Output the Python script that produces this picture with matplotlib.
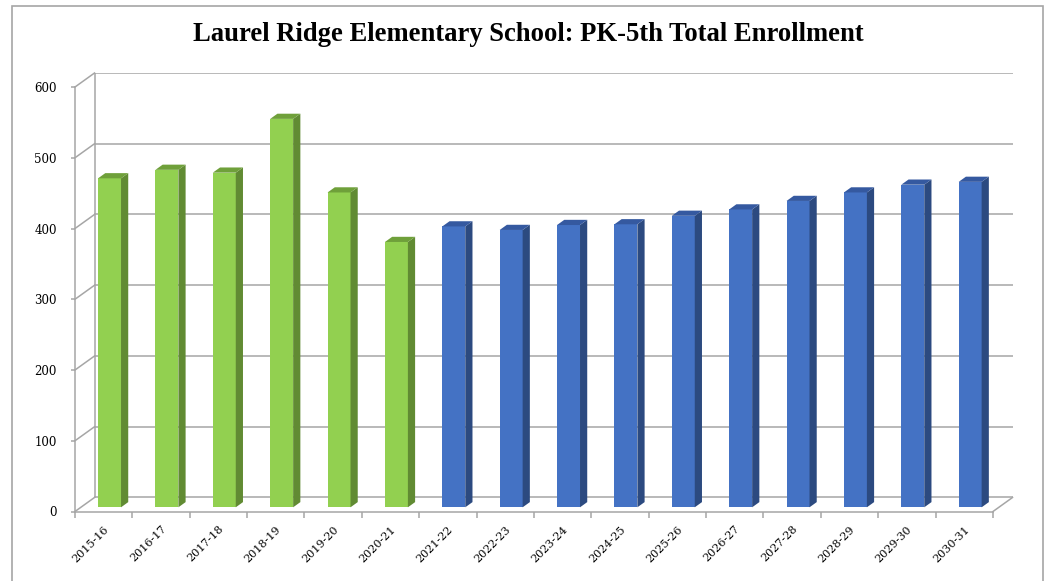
import numpy as np
import matplotlib.pyplot as plt
from matplotlib.patches import Polygon, Rectangle

years = ['2015-16', '2016-17', '2017-18', '2018-19', '2019-20', '2020-21',
         '2021-22', '2022-23', '2023-24', '2024-25', '2025-26', '2026-27',
         '2027-28', '2028-29', '2029-30', '2030-31']
enrollment = [465, 477, 473, 549, 445, 375,
              397, 392, 399, 400, 412, 421, 433, 445, 456, 460]
# first 6 are actual (green), the rest projected (blue)
n_actual = 6
y_ticks = [0, 100, 200, 300, 400, 500, 600]

W, H = 1054, 581
fig = plt.figure(figsize=(W / 100, H / 100), dpi=100)

## 3d look: depth offset of the wall, in data units
DX = 0.34
DY = 19.8
depth_front = 0.30   # where the bar front face sits
bar_depth = 0.37
bar_w = 0.40

# axes box in pixels (front-left-bottom corner to back-right-top corner)
x0_px, x1_px = 75, 1012.5
y0_px, y1_px = 511.5, 73
ax = fig.add_axes([x0_px / W, (H - y0_px) / H, (x1_px - x0_px) / W, (y0_px - y1_px) / H])
ax.set_xlim(-0.5, len(years) - 0.5 + DX)
ax.set_ylim(0, 600 + DY)

grid_c = '#a6a6a6'
lw = 1.1
n = len(years)
xl, xr = -0.5, n - 0.5

## walls and gridlines
for v in y_ticks:
    ax.plot([xl + DX, xr + DX], [v + DY, v + DY], color=grid_c, lw=lw, zorder=1)
    ax.plot([xl, xl + DX], [v, v + DY], color=grid_c, lw=lw, zorder=1, clip_on=False)
ax.plot([xl + DX, xl + DX], [DY, 600 + DY], color=grid_c, lw=lw, zorder=1)
ax.plot([xr, xr + DX], [0, DY], color=grid_c, lw=lw, zorder=1, clip_on=False)

## bars
green = ('#92d050', '#618b33', '#6fa03a')
blue = ('#4472c4', '#2c4a80', '#3559a0')
x = np.arange(n)
for i, v in enumerate(enrollment):
    front, side, top = green if i < n_actual else blue
    fx = x[i] + depth_front * DX
    fy = depth_front * DY
    left, right = fx - bar_w / 2, fx + bar_w / 2
    ddx, ddy = bar_depth * DX, bar_depth * DY
    ax.bar(fx, v, width=bar_w, bottom=fy, color=front, edgecolor='none', zorder=3)
    ax.add_patch(Polygon([(right, fy), (right + ddx, fy + ddy),
                          (right + ddx, fy + v + ddy), (right, fy + v)],
                         closed=True, facecolor=side, edgecolor='none', zorder=3))
    ax.add_patch(Polygon([(left, fy + v), (right, fy + v),
                          (right + ddx, fy + v + ddy), (left + ddx, fy + v + ddy)],
                         closed=True, facecolor=top, edgecolor='none', zorder=3))

## axes
for s in ['top', 'right']:
    ax.spines[s].set_visible(False)
for s in ['left', 'bottom']:
    ax.spines[s].set_color(grid_c)
    ax.spines[s].set_linewidth(lw)
ax.spines['left'].set_bounds(0, 600)
ax.spines['bottom'].set_bounds(xl, xr)

ax.set_yticks(y_ticks)
ax.set_yticklabels([str(t) for t in y_ticks], fontsize=8.5, family='DejaVu Serif')
ax.tick_params(axis='y', length=3, width=lw, color=grid_c, pad=10)

ax.set_xticks(x)
ax.set_xticklabels(years, rotation=45, ha='right', rotation_mode='anchor',
                   fontsize=8, family='DejaVu Serif')
ax.set_xticks(np.arange(n + 1) - 0.5, minor=True)
ax.tick_params(axis='x', which='major', length=0, pad=9)
ax.tick_params(axis='x', which='minor', length=4, width=lw, color=grid_c)

fig.text(528.5 / W, (H - 40.7) / H,
         'Laurel Ridge Elementary School: PK-5th Total Enrollment',
         ha='center', va='baseline', fontsize=19.2, fontweight='bold',
         family='Liberation Serif')

fig.add_artist(Rectangle((12 / W, -0.05), (1043 - 12) / W, 1.05 - 6 / H,
                         transform=fig.transFigure, fill=False,
                         edgecolor=grid_c, lw=1.2))

fig.savefig('out.png', dpi=100)
